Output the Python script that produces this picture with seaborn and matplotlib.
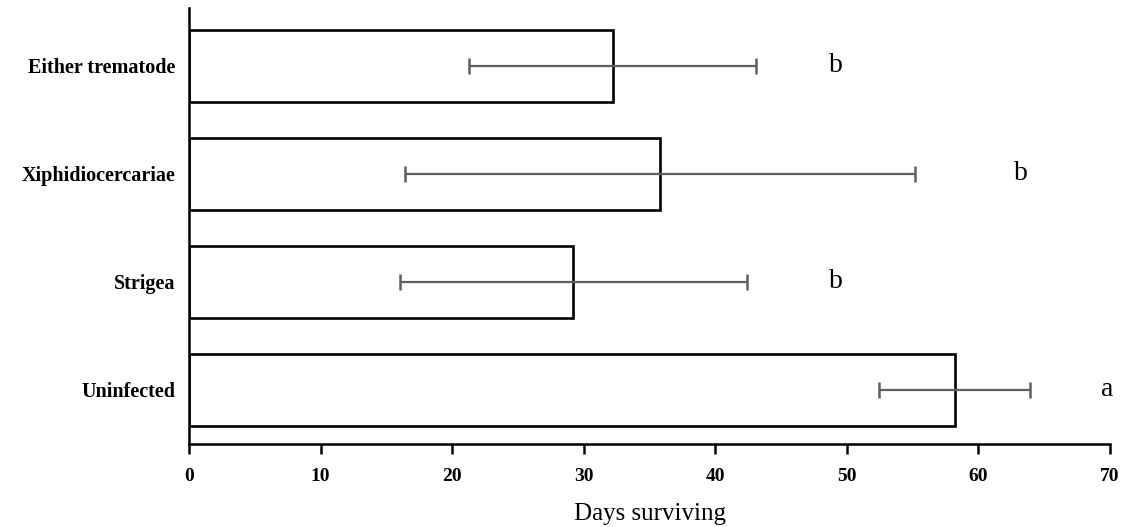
import matplotlib
matplotlib.use("Agg")
import matplotlib.pyplot as plt
import seaborn as sns
import pandas as pd

categories = ["Either trematode", "Xiphidiocercariae", "Strigea", "Uninfected"]
mean_days = [32.2, 35.8, 29.2, 58.2]
err_days = [10.9, 19.4, 13.2, 5.75]
sig_letters = ["b", "b", "b", "a"]
letter_x = [49.2, 63.2, 49.2, 69.8]
x_ticks = [0, 10, 20, 30, 40, 50, 60, 70]

sns.set_theme(style="white")
plt.rcParams["font.family"] = ["Liberation Serif", "DejaVu Serif"]
plt.rcParams["text.color"] = "black"
plt.rcParams["axes.labelcolor"] = "black"
plt.rcParams["xtick.color"] = "black"
plt.rcParams["ytick.color"] = "black"

df = pd.DataFrame({"group": categories, "days": mean_days})

fig = plt.figure(figsize=(11.28, 5.27), dpi=100)
ax = fig.add_axes([189/1128, 1-444/527, (1110-189)/1128, (444-8)/527])

sns.barplot(data=df, x="days", y="group", order=categories, orient="h",
            color="white", edgecolor="black", linewidth=1.9, width=0.667,
            errorbar=None, ax=ax)

ypos = list(range(len(categories)))
ax.errorbar(mean_days, ypos, xerr=err_days, fmt="none", ecolor="#5e5e5e",
            elinewidth=1.6, capsize=5.5, capthick=1.8, zorder=5)

for y, lx, lt in zip(ypos, letter_x, sig_letters):
    ax.text(lx, y, lt, ha="center", va="center", fontsize=20, color="black")

ax.set_xlim(0, 70)
ax.set_ylim(3.5, -0.537)
ax.set_xticks(x_ticks)
ax.set_xticklabels([str(t) for t in x_ticks], fontsize=14, fontweight="bold")
ax.set_yticks(ypos)
ax.set_yticklabels(categories, fontsize=14.5, fontweight="bold")
ax.set_xlabel("Days surviving", fontsize=18, labelpad=13)
ax.set_ylabel("")

for s in ["top", "right"]:
    ax.spines[s].set_visible(False)
for s in ["left", "bottom"]:
    ax.spines[s].set_color("black")
    ax.spines[s].set_linewidth(1.8)

ax.tick_params(axis="x", direction="out", length=7, width=1.8, color="black", bottom=True, pad=10)
ax.tick_params(axis="y", length=0, pad=10)

fig.savefig("out.png", dpi=100)
